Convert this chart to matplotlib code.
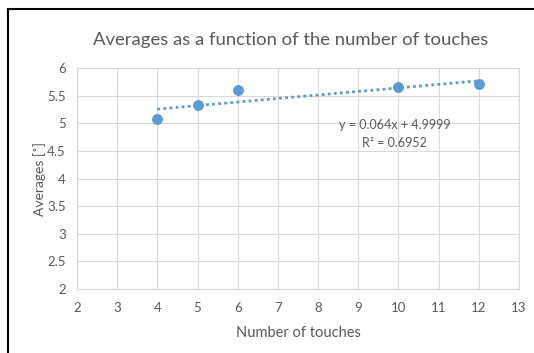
import numpy as np
import matplotlib
matplotlib.use("Agg")
import matplotlib.pyplot as plt
from matplotlib.lines import Line2D

plt.rcParams['font.family'] = ['Lato', 'DejaVu Sans']

touches = [4, 5, 6, 10, 12]
averages = [5.08, 5.33, 5.60, 5.66, 5.71]
slope = 0.064
intercept = 4.9999
r2 = 0.6952
x_ticks = list(range(2, 14))
y_ticks = [2, 2.5, 3, 3.5, 4, 4.5, 5, 5.5, 6]
y_tick_labels = ["2", "2.5", "3", "3.5", "4", "4.5", "5", "5.5", "6"]

blue = "#5B9BD5"
grid = "#D9D9D9"
txt = "#595959"

fig = plt.figure(figsize=(5.34, 3.53), dpi=100)
ax = fig.add_axes([77/534, 1-289/353, (519-77)/534, (289-68)/353])

xt = np.array([min(touches), max(touches)])
ax.plot(xt, slope*xt + intercept, linestyle=(0, (1, 1.2)), color=blue, lw=2.0, zorder=2)
ax.plot(touches, averages, 'o', color=blue, ms=6.8, zorder=3)

ax.set_xlim(2, 13)
ax.set_ylim(2, 6)
ax.set_xticks(x_ticks)
ax.set_yticks(y_ticks)
ax.set_yticklabels(y_tick_labels)
ax.grid(True, color=grid, lw=0.8)
ax.set_axisbelow(True)
for s in ax.spines.values():
    s.set_color(grid)
    s.set_linewidth(0.8)
ax.tick_params(length=0, labelsize=9.5, colors=txt, pad=9)
ax.tick_params(axis='y', pad=8)

ax.set_xlabel("Number of touches", fontsize=10.5, color=txt, labelpad=9)
ax.set_ylabel("Averages [˚]", fontsize=10, color=txt, labelpad=1)

fig.text(291/534, 1-40/353, "Averages as a function of the number of touches",
         ha='center', va='center', fontsize=13.3, color=txt)

ax.text(9.9, 4.97, f"y = {slope}x + {intercept}", ha='center', va='center', fontsize=9, color=txt)
ax.text(9.9, 4.64, f"R² = {r2}", ha='center', va='center', fontsize=9, color=txt)

fig.add_artist(Line2D([8/534, 8/534], [0, 1-9/353], transform=fig.transFigure, color='black', lw=1.5))
fig.add_artist(Line2D([8/534, 1], [1-9/353, 1-9/353], transform=fig.transFigure, color='black', lw=1.5))

fig.savefig("out.png", dpi=100)
